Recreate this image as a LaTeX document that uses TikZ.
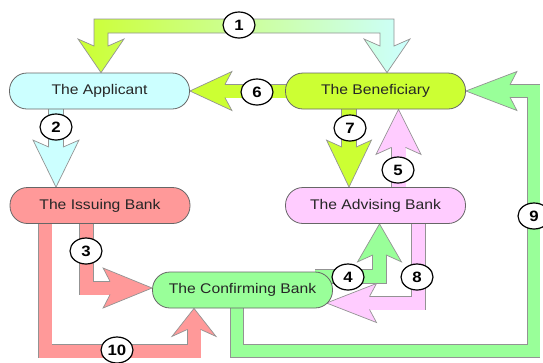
\documentclass[tikz,border=0pt]{standalone}
\usepackage{fontspec}
\setmainfont{Liberation Sans}[FakeStretch=1.12]
\usetikzlibrary{shapes.geometric,backgrounds}
\definecolor{cyanL}{HTML}{CCFFFF}
\definecolor{ygreen}{HTML}{CCFF33}
\definecolor{pinkR}{HTML}{FF9999}
\definecolor{pinkL}{HTML}{FFCCFF}
\definecolor{greenL}{HTML}{99FF99}
% block arrow head: #1 colour, #2 tip, #3 angle, #4 length, #5 half width, #6 shaft width
\newcommand\bhead[6]{\filldraw[fill=#1, arrowedge, shift={#2}, rotate=#3] (-#4+7,#6/2) -- (-#4,#5) -- (0,0) -- (-#4,-#5) -- (-#4+7,-#6/2);}
% block arrow shaft: #1 colour, #2 width, #3 path
\newcommand\bshaft[3]{\draw[gray!85, line width=#2pt+1.4pt, line join=miter] #3; \draw[#1, line width=#2pt, line join=miter] #3;}
\begin{document}
\begin{tikzpicture}[x=1pt,y=-1pt,
  pill/.style={draw=black!60, line width=0.8pt, rounded corners=17.5pt, minimum width=180pt, minimum height=36pt, inner sep=0pt, font=\fontsize{14}{16}\selectfont, text=black!85},
  num/.style={ellipse, draw=black, line width=1.2pt, fill=white, minimum width=32pt, minimum height=26pt, inner sep=0pt, font=\fontsize{15}{17}\selectfont\bfseries},
  arrowedge/.style={draw=gray!85, line width=0.7pt, line join=miter},
]
\useasboundingbox (0,0) rectangle (543,362);
\node[pill, fill=cyanL] (app) at (99.5,91) {The Applicant};
\node[pill, fill=ygreen] (ben) at (375.5,91) {The Beneficiary};
\node[pill, fill=pinkR] (iss) at (100,205.5) {The Issuing Bank};
\node[pill, fill=pinkL] (adv) at (375.5,205.5) {The Advising Bank};
\node[pill, fill=greenL] (con) at (242.5,290) {The Confirming Bank};

\begin{pgfonlayer}{background}
% 1
\path[arrowedge, left color=ygreen, right color=cyanL]
  (94,46) -- (78,39) -- (101,0 |- app.north) -- (124,39) -- (108,46) -- (108,33) -- (380,33) -- (380,46) -- (364,39) -- (387,0 |- ben.north) -- (410,39) -- (394,46) -- (394,19) -- (94,19) -- cycle;
% 2
\bshaft{cyanL}{14}{(56,0 |- app.south) -- (56,148)}
\bhead{cyanL}{(56,0 |- iss.north)}{-90}{47}{23}{14}
% 3
\bshaft{pinkR}{13}{(86.5,0 |- iss.south) -- (86.5,288) -- (111,288)}
\bhead{pinkR}{(con.west |- 0,288)}{0}{49}{20}{13}
% 4
\bshaft{greenL}{13}{(315,276.5) -- (379.5,276.5) -- (379.5,254)}
\bhead{greenL}{(379.5,0 |- adv.south)}{90}{38}{22}{13}
% 5
\bshaft{pinkL}{14}{(398.5,0 |- adv.north) -- (398.5,146)}
\bhead{pinkL}{(398.5,0 |- ben.south)}{90}{45}{22.5}{14}
% 6
\bshaft{ygreen}{13}{(300,91) -- (223.5,91)}
\bhead{ygreen}{(app.east)}{180}{42}{19.5}{13}
% 7
\bshaft{ygreen}{14}{(349,0 |- ben.south) -- (349,148)}
\bhead{ygreen}{(349,0 |- adv.north)}{-90}{47}{22.5}{14}
% 8
\bshaft{pinkL}{13}{(418.5,0 |- adv.south) -- (418.5,303) -- (368,303)}
\bhead{pinkL}{(326.5,303)}{180}{50}{19.5}{13}
% 9
\bshaft{greenL}{12}{(237,0 |- con.south) -- (237,351) -- (533.5,351) -- (533.5,91) -- (508.5,91)}
\bhead{greenL}{(ben.east)}{180}{51}{19.5}{12}
% 10
\bshaft{pinkR}{13}{(45,0 |- iss.south) -- (45,351) -- (194,351) -- (194,328)}
\bhead{pinkR}{(194,0 |- con.south)}{90}{28}{22}{13}
\end{pgfonlayer}

\node[num] (c1) at (239,25) {1};
\node[num] (c2) at (56,127) {2};
\node[num] (c3) at (86,251) {3};
\node[num] (c4) at (348,277) {4};
\node[num] (c5) at (398,170) {5};
\node[num] (c6) at (257,92) {6};
\node[num] (c7) at (350,128) {7};
\node[num] (c8) at (417,277) {8};
\node[num] (c9) at (534,216) {9};
\node[num] (c10) at (117,350) {10};
\end{tikzpicture}
\end{document}
